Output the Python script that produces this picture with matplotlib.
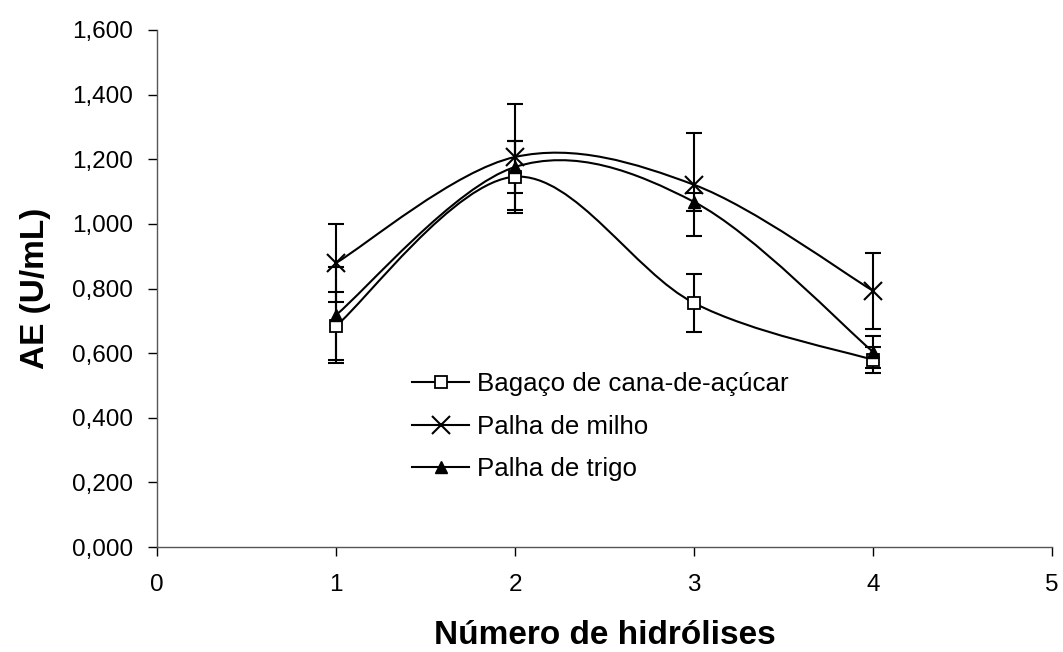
import numpy as np
import matplotlib
matplotlib.use('Agg')
import matplotlib.pyplot as plt
from matplotlib.path import Path
from matplotlib.patches import PathPatch
from matplotlib.lines import Line2D

plt.rcParams['font.family'] = ['Liberation Sans', 'DejaVu Sans']

# data
hidrolises = [1, 2, 3, 4]
bagaco = [0.684, 1.146, 0.755, 0.579]
bagaco_err = [0.105, 0.111, 0.090, 0.040]
milho = [0.879, 1.207, 1.121, 0.793]
milho_err = [0.121, 0.165, 0.160, 0.117]
trigo = [0.718, 1.176, 1.068, 0.604]
trigo_err = [0.150, 0.080, 0.028, 0.050]

series_names = ['Bagaço de cana-de-açúcar', 'Palha de milho', 'Palha de trigo']
y_ticks = [0, 0.2, 0.4, 0.6, 0.8, 1.0, 1.2, 1.4, 1.6]
y_tick_labels = ['0,000', '0,200', '0,400', '0,600', '0,800',
                 '1,000', '1,200', '1,400', '1,600']
x_ticks = [0, 1, 2, 3, 4, 5]


def smooth_path(x, y):
    """Excel-style smoothed line: cubic Bezier with Catmull-Rom control points."""
    pts = np.column_stack([x, y]).astype(float)
    n = len(pts)
    verts = [pts[0]]
    codes = [Path.MOVETO]
    for i in range(n - 1):
        p0 = pts[i - 1] if i > 0 else pts[i]
        p1 = pts[i]
        p2 = pts[i + 1]
        p3 = pts[i + 2] if i + 2 < n else pts[i + 1]
        c1 = p1 + (p2 - p0) / 6.0
        c2 = p2 - (p3 - p1) / 6.0
        verts += [c1, c2, p2]
        codes += [Path.CURVE4] * 3
    return Path(verts, codes)


fig = plt.figure(figsize=(10.63, 6.52), dpi=100)
ax = fig.add_axes([0.1477, 0.161, 0.842, 0.793])

styles = [
    dict(marker='s', mfc='white', mec='black', ms=8.5, mew=1.3),
    dict(marker='x', mfc='none', mec='black', ms=13, mew=1.5),
    dict(marker='^', mfc='black', mec='black', ms=9, mew=1.0),
]
data = [(bagaco, bagaco_err), (milho, milho_err), (trigo, trigo_err)]

handles = []
for (vals, errs), st, name in zip(data, styles, series_names):
    ax.add_patch(PathPatch(smooth_path(hidrolises, vals), fill=False,
                           edgecolor='black', lw=1.5, zorder=2))
    ax.errorbar(hidrolises, vals, yerr=errs, fmt='none', ecolor='black',
                elinewidth=1.5, capsize=6, capthick=1.5, zorder=3)
    ax.plot(hidrolises, vals, linestyle='none', zorder=4, **st)
    handles.append(Line2D([0], [0], color='black', lw=1.5, **st))

ax.set_xlim(0, 5)
ax.set_ylim(0, 1.6)
ax.set_xticks(x_ticks)
ax.set_xticklabels([str(t) for t in x_ticks])
ax.set_yticks(y_ticks)
ax.set_yticklabels(y_tick_labels)
ax.tick_params(axis='both', direction='out', length=6.5, width=1,
               labelsize=17.5, colors='black')
ax.tick_params(axis='x', pad=13)
ax.tick_params(axis='y', pad=11)
for side in ['top', 'right']:
    ax.spines[side].set_visible(False)
for side in ['left', 'bottom']:
    ax.spines[side].set_linewidth(1)
    ax.spines[side].set_color('#555555')

ax.set_xlabel('Número de hidrólises', fontsize=24, fontweight='bold', labelpad=17)
ax.set_ylabel('AE (U/mL)', fontsize=24, fontweight='bold', labelpad=15)

ax.legend(handles, series_names, loc='upper left', bbox_to_anchor=(0.285, 0.338),
          frameon=False, fontsize=18.6, handlelength=2.2, handletextpad=0.3,
          labelspacing=0.72, borderaxespad=0, borderpad=0)

fig.savefig('out.png', dpi=100)
